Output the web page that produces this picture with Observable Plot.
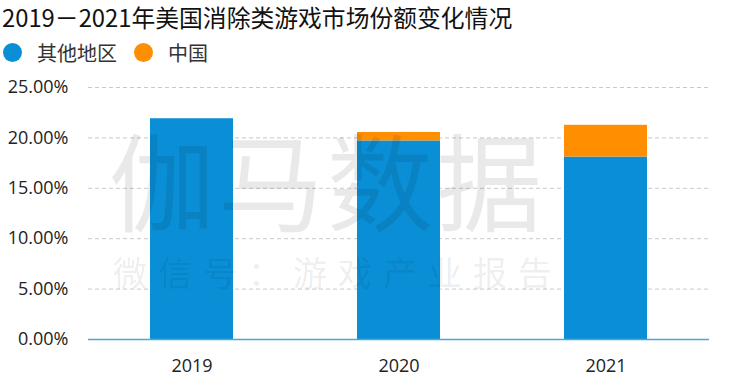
<!DOCTYPE html>
<html>
<head>
<meta charset="utf-8">
<script src="https://cdn.jsdelivr.net/npm/d3@7"></script>
<script src="https://cdn.jsdelivr.net/npm/@observablehq/plot@0.6"></script>
<style>
  html, body { margin: 0; padding: 0; background: #fff; }
  body { width: 750px; height: 390px; position: relative; overflow: hidden; font-family: "Noto Sans CJK SC", "Noto Sans", sans-serif; }
  #title { position: absolute; left: 2px; top: 2px; font-size: 23.8px; line-height: 30px; color: #111; white-space: nowrap; }
  #legend { position: absolute; left: 3px; top: 40px; height: 24px; display: flex; align-items: center; font-size: 20px; color: #333; white-space: nowrap; }
  #legend .sw { width: 19px; height: 19px; border-radius: 50%; display: inline-block; }
  #legend .lab { margin-left: 15px; margin-right: 17px; }
  #chart { position: absolute; left: 0; top: 75px; }
  #wm { position: absolute; left: 0; top: 0; width: 750px; height: 390px; pointer-events: none; color: rgba(0,0,0,0.085); font-family: "DejaVu Sans", "Noto Sans CJK SC", sans-serif; }
  #wm .big { position: absolute; left: 109px; top: 134px; font-size: 106px; line-height: 106px; letter-spacing: 3px; white-space: nowrap; }
  #wm .small { position: absolute; left: 113px; top: 257px; font-size: 34px; line-height: 34px; letter-spacing: 11px; white-space: nowrap; }
</style>
</head>
<body>
<div id="title"></div>
<div id="legend"></div>
<div id="chart"></div>
<div id="wm"><div class="big">伽马数据</div><div class="small">微信号：游戏产业报告</div></div>
<script>
const titleText = "2019－2021年美国消除类游戏市场份额变化情况";
const years = ["2019", "2020", "2021"];
const seriesNames = ["其他地区", "中国"];
const seriesColors = ["#0a8fd6", "#ff8f00"];
const otherShare = [21.9, 19.7, 18.1];
const chinaShare = [0, 0.84, 3.15];
const yTicks = [0, 5, 10, 15, 20, 25];

document.getElementById("title").textContent = titleText;
const legend = document.getElementById("legend");
seriesNames.forEach((n, i) => {
  const sw = document.createElement("span");
  sw.className = "sw";
  sw.style.background = seriesColors[i];
  const lab = document.createElement("span");
  lab.className = "lab";
  lab.textContent = n;
  legend.appendChild(sw);
  legend.appendChild(lab);
});

const data = [];
years.forEach((y, i) => {
  data.push({year: y, series: seriesNames[0], value: otherShare[i]});
  data.push({year: y, series: seriesNames[1], value: chinaShare[i]});
});

const chart = Plot.plot({
  width: 750,
  height: 315,
  marginLeft: 88,
  marginRight: 41,
  marginTop: 12,
  marginBottom: 51,
  style: {fontFamily: "'Open Sans', 'Noto Sans', sans-serif", background: "#fff"},
  x: {domain: years, paddingInner: 0.6, paddingOuter: 0.3, align: 0.5, label: null},
  y: {domain: [0, 25], label: null},
  color: {domain: seriesNames, range: seriesColors},
  marks: [
    Plot.gridY(yTicks, {stroke: "#c8c8c8", strokeOpacity: 1, strokeDasharray: "4,3"}),
    Plot.barY(data, {x: "year", y: "value", fill: "series", inset: 0}),
    Plot.ruleY([0], {stroke: "#4aa6e0", strokeWidth: 1.3}),
    Plot.axisY(yTicks, {tickSize: 0, tickPadding: 20, fontSize: 18, fill: "#222", tickFormat: d => d.toFixed(2) + "%"}),
    Plot.axisX({tickSize: 0, tickPadding: 20, fontSize: 18, fill: "#222"})
  ]
});
document.getElementById("chart").appendChild(chart);
</script>
</body>
</html>
